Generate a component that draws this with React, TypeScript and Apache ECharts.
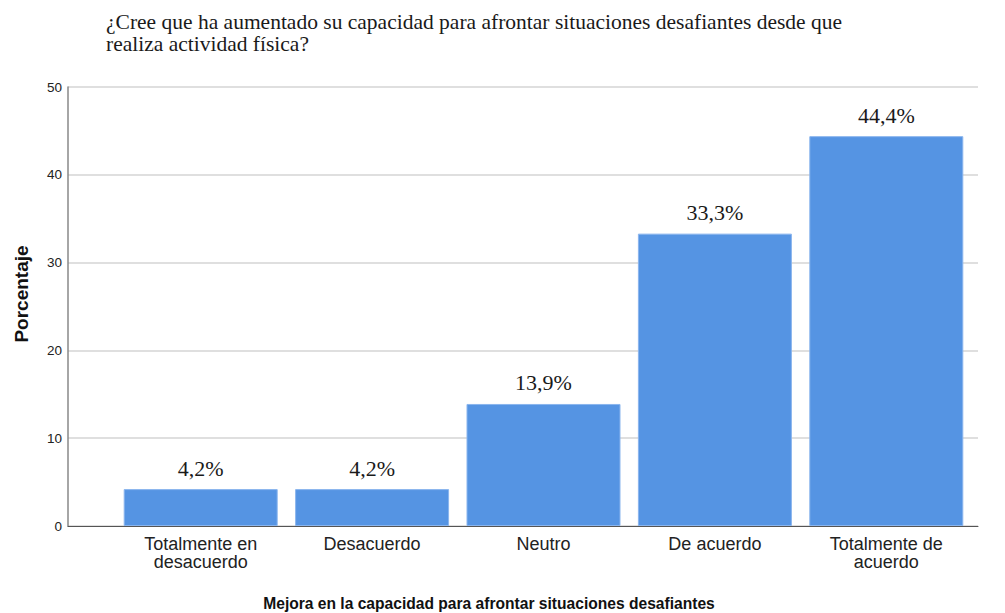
import React, { useEffect, useRef } from "react";
import * as echarts from "echarts";

const categories = ["Totalmente en\ndesacuerdo", "Desacuerdo", "Neutro", "De acuerdo", "Totalmente de\nacuerdo"];
const values = [4.2, 4.2, 13.9, 33.3, 44.4];
const yTicks = { min: 0, max: 50, interval: 10 };
const titleText = "¿Cree que ha aumentado su capacidad para afrontar situaciones desafiantes desde que\nrealiza actividad física?";
const xTitle = "Mejora en la capacidad para afrontar situaciones desafiantes";
const yTitle = "Porcentaje";

export default function App() {
  const ref = useRef<HTMLDivElement>(null);
  useEffect(() => {
    if (!ref.current) return;
    const chart = echarts.init(ref.current, undefined, { renderer: "svg" });
    const sans = "'Liberation Sans', Arial, sans-serif";
    const serif = "'Liberation Serif', 'Times New Roman', serif";
    chart.setOption({
      animation: false,
      backgroundColor: "#ffffff",
      title: {
        text: titleText,
        left: 101,
        top: 6,
        textStyle: { fontFamily: serif, fontSize: 21.5, fontWeight: "normal", color: "#1a1a1a", lineHeight: 22 },
      },
      grid: [
        { left: 68, right: 27, top: 87, bottom: 87 },
        { left: 115, right: 33, top: 87, bottom: 87 },
      ],
      xAxis: [
        {
          gridIndex: 0, type: "value", min: 0, max: 1,
          axisLine: { show: true, lineStyle: { color: "#555", width: 1 } },
          axisTick: { show: false }, axisLabel: { show: false }, splitLine: { show: false },
        },
        {
          gridIndex: 1, type: "category", data: categories,
          axisLine: { show: false }, axisTick: { show: false },
          axisLabel: { fontFamily: sans, fontSize: 18, color: "#222", lineHeight: 18, margin: 9 },
        },
      ],
      yAxis: [
        {
          gridIndex: 0, type: "value", ...yTicks,
          axisLine: { show: true, lineStyle: { color: "#888", width: 1.5 } },
          axisTick: { show: false },
          axisLabel: { fontFamily: sans, fontSize: 13.5, color: "#222", margin: 6 },
          splitLine: { show: true, lineStyle: { color: "#d4d4d4", width: 1.5 } },
        },
        {
          gridIndex: 1, type: "value", ...yTicks, show: false,
          splitLine: { show: false },
        },
      ],
      series: [
        {
          type: "bar",
          xAxisIndex: 1,
          yAxisIndex: 1,
          data: values,
          barWidth: 154,
          itemStyle: { color: "#5594e3", borderColor: "#8ab5ee", borderWidth: 1 },
          label: {
            show: true,
            position: "top",
            distance: 10,
            fontFamily: serif,
            fontSize: 22,
            color: "#1a1a1a",
            formatter: (p: any) => p.value.toFixed(1).replace(".", ",") + "%",
          },
        },
      ],
      graphic: [
        {
          type: "text", x: 489, y: 603,
          style: { text: xTitle, font: `bold 15.6px ${sans}`, fill: "#111", align: "center", verticalAlign: "middle" },
        },
        {
          type: "text", x: 21, y: 294, rotation: Math.PI / 2,
          style: { text: yTitle, font: `bold 19px ${sans}`, fill: "#111", align: "center", verticalAlign: "middle" },
        },
      ],
    });
    return () => chart.dispose();
  }, []);
  return <div ref={ref} style={{ width: 1005, height: 613, position: "absolute", left: 0, top: 0 }} />;
}
